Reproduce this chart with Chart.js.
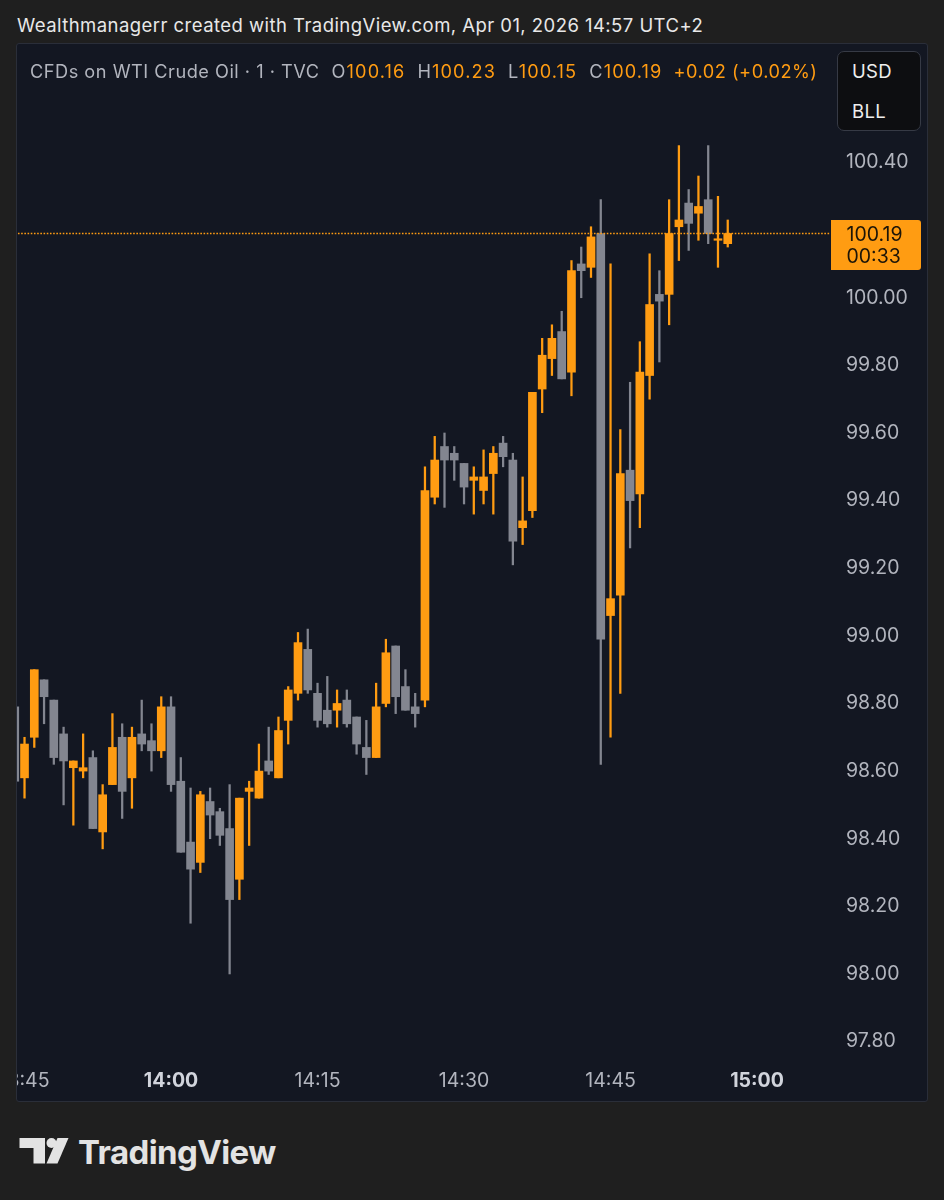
<!DOCTYPE html>
<html lang="en">
<head>
  <meta charset="UTF-8">
  <title>CFDs on WTI Crude Oil · 1 · TVC</title>
  <script src="https://cdn.jsdelivr.net/npm/chart.js"></script>
  <style>
    body { margin: 0; width: 944px; height: 1200px; background: #1f1f1f; position: relative; overflow: hidden;
           font-family: Inter, "Noto Sans", sans-serif; }
    .header { position: absolute; left: 17px; top: 14px; color: #e8e8e8; font-size: 18.5px; letter-spacing: 0.45px; line-height: 22px; white-space: nowrap; }
    .panel { position: absolute; left: 16px; top: 43px; width: 912px; height: 1059px; box-sizing: border-box;
             background: #131722; border: 1px solid #2a2e39; border-radius: 3px; }
    .wrap { position: absolute; left: 17px; top: 44px; width: 910px; height: 1057px; }
    .legend { position: absolute; left: 30px; top: 60px; font-size: 18.2px; letter-spacing: 0.5px; line-height: 22px; color: #b2b5be; white-space: nowrap; }
    .legend .v { color: #ff9c12; }
    .legend .g { margin-left: 12px; letter-spacing: 1.1px; }
    .legend .chg { margin-left: 11px; color: #ff9c12; }
    .units { position: absolute; left: 837px; top: 51px; width: 84px; height: 80px; box-sizing: border-box;
             background: #0d0e11; border: 1px solid #363a45; border-radius: 7px; color: #eeeeee; font-size: 18.5px; letter-spacing: 0.3px; }
    .units div { position: absolute; left: 14px; line-height: 22px; }
    .logo { position: absolute; left: 0; top: 1120px; }
  </style>
</head>
<body>
  <div class="header">Wealthmanagerr created with TradingView.com, Apr 01, 2026 14:57 UTC+2</div>
  <div class="panel"></div>
  <div class="wrap"><canvas id="candles"></canvas></div>
  <div class="legend">CFDs on WTI Crude Oil · 1 · TVC<span class="g">O<span class="v">100.16</span></span><span class="g">H<span class="v">100.23</span></span><span class="g">L<span class="v">100.15</span></span><span class="g">C<span class="v">100.19</span></span><span class="chg">+0.02 (+0.02%)</span>
  </div>
  <div class="units"><div style="top:8px">USD</div><div style="top:48px">BLL</div></div>
  <svg class="logo" width="300" height="60" viewBox="0 1120 300 60">
    <path d="M19.5 1138 H45 V1163.5 H33.5 V1148 H19.5 Z" fill="#e3e3e3"/>
    <circle cx="51.5" cy="1143" r="5" fill="#e3e3e3"/>
    <path d="M57.5 1138 H68.5 L57.5 1163.5 H46.5 Z" fill="#e3e3e3"/>
    <text x="78" y="1163.5" fill="#e3e3e3" font-family="Inter, sans-serif" font-weight="700" font-size="33" letter-spacing="-0.6">TradingView</text>
  </svg>

  <script>
    // 1-minute candles, 01 Apr 2026
    const times = ['13:44','13:45','13:46','13:47','13:48','13:49','13:50','13:51','13:52','13:53',
                   '13:54','13:55','13:56','13:57','13:58','13:59','14:00','14:01','14:02','14:03',
                   '14:04','14:05','14:06','14:07','14:08','14:09','14:10','14:11','14:12','14:13',
                   '14:14','14:15','14:16','14:17','14:18','14:19','14:20','14:21','14:22','14:23',
                   '14:24','14:25','14:26','14:27','14:28','14:29','14:30','14:31','14:32','14:33',
                   '14:34','14:35','14:36','14:37','14:38','14:39','14:40','14:41','14:42','14:43',
                   '14:44','14:45','14:46','14:47','14:48','14:49','14:50','14:51','14:52','14:53',
                   '14:54','14:55','14:56','14:57'];
    const open  = [98.79, 98.58, 98.70, 98.87, 98.81, 98.71, 98.61, 98.60, 98.64, 98.42,
                   98.56, 98.70, 98.58, 98.71, 98.69, 98.66, 98.79, 98.57, 98.39, 98.33,
                   98.51, 98.48, 98.43, 98.28, 98.54, 98.52, 98.63, 98.58, 98.75, 98.83,
                   98.96, 98.83, 98.78, 98.78, 98.81, 98.76, 98.67, 98.64, 98.80, 98.97,
                   98.85, 98.79, 98.81, 99.41, 99.56, 99.54, 99.51, 99.46, 99.43, 99.48,
                   99.57, 99.52, 99.32, 99.37, 99.73, 99.82, 99.90, 99.78, 100.10, 100.09,
                   100.19, 99.06, 99.12, 99.49, 99.42, 99.77, 100.01, 100.01, 100.21, 100.28,
                   100.25, 100.29, 100.17, 100.16];
    const high  = [98.80, 98.70, 98.90, 98.87, 98.81, 98.73, 98.63, 98.71, 98.66, 98.56,
                   98.77, 98.74, 98.73, 98.81, 98.74, 98.82, 98.82, 98.64, 98.55, 98.54,
                   98.55, 98.49, 98.56, 98.52, 98.57, 98.68, 98.73, 98.76, 98.85, 99.01,
                   99.02, 98.86, 98.88, 98.84, 98.84, 98.76, 98.75, 98.86, 98.99, 98.97,
                   98.90, 98.83, 99.50, 99.59, 99.60, 99.56, 99.51, 99.50, 99.55, 99.56,
                   99.59, 99.54, 99.47, 99.72, 99.88, 99.92, 99.96, 100.11, 100.15, 100.21,
                   100.29, 100.10, 99.61, 99.75, 99.87, 100.13, 100.08, 100.29, 100.45, 100.32,
                   100.36, 100.45, 100.30, 100.23];
    const low   = [98.55, 98.52, 98.67, 98.74, 98.62, 98.50, 98.44, 98.58, 98.43, 98.37,
                   98.56, 98.46, 98.49, 98.66, 98.60, 98.64, 98.54, 98.36, 98.15, 98.30,
                   98.40, 98.38, 98.00, 98.22, 98.38, 98.52, 98.59, 98.58, 98.68, 98.81,
                   98.83, 98.73, 98.73, 98.73, 98.73, 98.65, 98.59, 98.64, 98.79, 98.77,
                   98.78, 98.73, 98.79, 99.39, 99.38, 99.46, 99.39, 99.36, 99.39, 99.36,
                   99.50, 99.21, 99.27, 99.35, 99.66, 99.77, 99.76, 99.71, 100.00, 100.06,
                   98.62, 98.70, 98.83, 99.26, 99.32, 99.70, 99.81, 99.92, 100.11, 100.14,
                   100.17, 100.16, 100.09, 100.15];
    const close = [98.57, 98.68, 98.90, 98.82, 98.64, 98.63, 98.63, 98.61, 98.43, 98.53,
                   98.67, 98.54, 98.70, 98.68, 98.66, 98.79, 98.56, 98.36, 98.31, 98.53,
                   98.47, 98.41, 98.22, 98.52, 98.55, 98.60, 98.60, 98.72, 98.84, 98.98,
                   98.84, 98.75, 98.74, 98.80, 98.74, 98.68, 98.64, 98.79, 98.95, 98.82,
                   98.78, 98.77, 99.43, 99.52, 99.52, 99.52, 99.44, 99.47, 99.47, 99.54,
                   99.53, 99.28, 99.34, 99.72, 99.83, 99.88, 99.76, 100.08, 100.08, 100.18,
                   98.99, 99.11, 99.48, 99.40, 99.78, 99.98, 99.99, 100.19, 100.23, 100.22,
                   100.27, 100.19, 100.17, 100.19];

    const priceTicks = [97.80, 98.00, 98.20, 98.40, 98.60, 98.80, 99.00, 99.20, 99.40, 99.60, 99.80, 100.00, 100.20, 100.40];
    const timeTicks = ['13:45', '14:00', '14:15', '14:30', '14:45', '15:00'];
    const hourTicks = ['14:00', '15:00'];
    const countdown = '00:33';

    const ORANGE = '#ff9c12';
    const GREY = '#838690';

    // minutes relative to 14:00, used as the x value
    const toMin = t => { const [h, m] = t.split(':').map(Number); return h * 60 + m - 840; };
    const fmt = v => { const t = Math.round(v) + 840; return String(Math.floor(t / 60)).padStart(2, '0') + ':' + String(t % 60).padStart(2, '0'); };
    const isHour = c => !!(c.tick && hourTicks.includes(fmt(c.tick.value)));

    const xs = times.map(toMin);
    const colors = close.map((c, i) => c >= open[i] ? ORANGE : GREY);
    const last = close.length - 1;

    const priceTag = {
      id: 'priceTag',
      afterDraw(chart) {
        const { ctx, chartArea, scales } = chart;
        const y = Math.round(scales.y.getPixelForValue(close[last]));
        const x = chartArea.right + 1;
        ctx.save();
        ctx.fillStyle = ORANGE;
        ctx.beginPath();
        ctx.roundRect(x, y - 14, 90, 50, [0, 3, 3, 0]);
        ctx.fill();
        ctx.fillStyle = '#1c1508';
        ctx.font = '19.5px Inter';
        ctx.textBaseline = 'middle';
        ctx.fillText(close[last].toFixed(2), x + 15.5, y + 1);
        ctx.fillText(countdown, x + 15.5, y + 23);
        ctx.restore();
      }
    };

    const zeroPad = s => { s.paddingLeft = 0; s.paddingRight = 0; s.paddingTop = 0; s.paddingBottom = 0; };

    new Chart(document.getElementById('candles'), {
      type: 'bar',
      data: {
        datasets: [
          {
            type: 'line',
            data: [{ x: -16, y: close[last] }, { x: 68, y: close[last] }],
            borderColor: ORANGE,
            borderWidth: 1.4,
            borderDash: [1.6, 1.6],
            pointRadius: 0,
            order: 0
          },
          {
            data: xs.map((x, i) => ({ x, y: [open[i], close[i]] })),
            backgroundColor: colors,
            barThickness: 8,
            minBarLength: 1.5,
            grouped: false,
            order: 1
          },
          {
            data: xs.map((x, i) => ({ x, y: [low[i], high[i]] })),
            backgroundColor: colors,
            barThickness: 1.6,
            grouped: false,
            order: 2
          }
        ]
      },
      options: {
        responsive: true,
        maintainAspectRatio: false,
        animation: false,
        layout: { padding: 0 },
        plugins: { legend: { display: false }, tooltip: { enabled: false } },
        scales: {
          x: {
            type: 'linear',
            min: -15.77,
            max: 67.47,
            offset: false,
            grid: { display: false, drawTicks: false },
            border: { display: false },
            afterBuildTicks: s => { s.ticks = timeTicks.map(t => ({ value: toMin(t) })); },
            afterFit: s => { zeroPad(s); s.height = 41; },
            ticks: {
              autoSkip: false,
              maxRotation: 0,
              padding: 9,
              callback: v => fmt(v),
              color: c => isHour(c) ? '#d1d4dc' : '#b2b5be',
              font: c => ({ family: 'Inter', size: 19.5, weight: isHour(c) ? 'bold' : 'normal' })
            }
          },
          y: {
            position: 'right',
            min: 97.7455,
            max: 100.7505,
            grid: { display: false, drawTicks: false },
            border: { display: false },
            afterBuildTicks: s => { s.ticks = priceTicks.map(v => ({ value: v })); },
            afterFit: s => { zeroPad(s); s.width = 97; },
            ticks: {
              padding: 16,
              color: '#b2b5be',
              font: { family: 'Inter', size: 19.5 },
              callback: v => v.toFixed(2)
            }
          }
        }
      },
      plugins: [priceTag]
    });
  </script>
</body>
</html>
